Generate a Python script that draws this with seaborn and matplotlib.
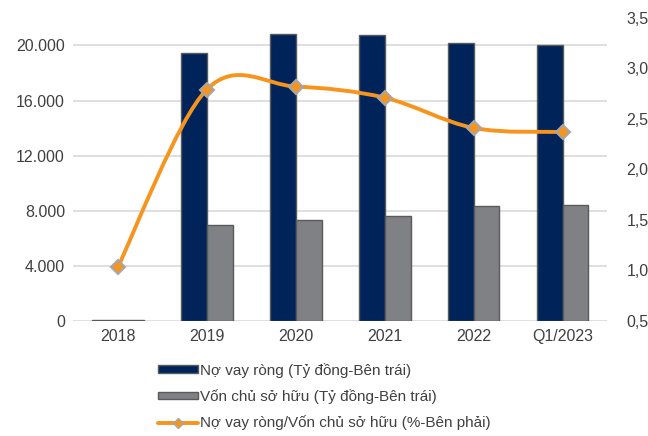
import pandas as pd
import numpy as np
import matplotlib
matplotlib.use("Agg")
import matplotlib.pyplot as plt
from matplotlib.path import Path
from matplotlib.patches import PathPatch, Patch
from matplotlib.lines import Line2D
import seaborn as sns

# data
periods = ["2018", "2019", "2020", "2021", "2022", "Q1/2023"]
net_debt = [60, 19480, 20830, 20760, 20200, 20000]
equity = [60, 6970, 7330, 7620, 8350, 8420]
ratio = [1.03, 2.79, 2.82, 2.71, 2.41, 2.37]

lbl_debt = "Nợ vay ròng (Tỷ đồng-Bên trái)"
lbl_eq = "Vốn chủ sở hữu (Tỷ đồng-Bên trái)"
lbl_ratio = "Nợ vay ròng/Vốn chủ sở hữu (%-Bên phải)"

navy = "#00245A"
grey = "#808184"
orange = "#F7941D"

sns.set_theme(style="white")
plt.rcParams["font.family"] = ["Liberation Sans", "DejaVu Sans"]

df = pd.DataFrame({
    "period": periods * 2,
    "value": net_debt + equity,
    "series": [lbl_debt] * len(periods) + [lbl_eq] * len(periods),
})

fig = plt.figure(figsize=(6.48, 4.36), dpi=100)
ax = fig.add_axes([0.113, 0.264, 0.824, 0.695])

sns.barplot(data=df, x="period", y="value", hue="series",
            palette={lbl_debt: navy, lbl_eq: grey}, saturation=1,
            width=0.58, gap=0, edgecolor="#5A5A5A", linewidth=1,
            legend=False, ax=ax, zorder=3)

ax.set_ylim(0, 22000)
ax.set_yticks(range(0, 20001, 4000))
ax.set_yticklabels([f"{v:,}".replace(",", ".") for v in range(0, 20001, 4000)])
ax.yaxis.grid(True, color="#D9D9D9", linewidth=1.2)
ax.set_axisbelow(True)
ax.set_xlabel("")
ax.set_ylabel("")
ax.set_xlim(-0.5, len(periods) - 0.5)
ax.tick_params(axis="both", length=0, labelsize=11.5, colors="#404040", pad=6)
for s in ax.spines.values():
    s.set_visible(False)

ax2 = ax.twinx()
ax2.set_ylim(0.5, 3.5)
ax2.set_yticks(np.arange(0.5, 3.51, 0.5))
ax2.set_yticklabels([f"{v:.1f}".replace(".", ",") for v in np.arange(0.5, 3.51, 0.5)])
ax2.tick_params(axis="y", length=0, labelsize=11.5, colors="#404040", pad=14)
for s in ax2.spines.values():
    s.set_visible(False)

# smoothed line like Excel's (Catmull-Rom as cubic Bezier)
xs = np.arange(len(ratio), dtype=float)
ys = np.array(ratio, dtype=float)
verts = [(xs[0], ys[0])]
codes = [Path.MOVETO]
n = len(xs)
for i in range(n - 1):
    p0 = np.array([xs[max(i - 1, 0)], ys[max(i - 1, 0)]])
    p1 = np.array([xs[i], ys[i]])
    p2 = np.array([xs[i + 1], ys[i + 1]])
    p3 = np.array([xs[min(i + 2, n - 1)], ys[min(i + 2, n - 1)]])
    c1 = p1 + (p2 - p0) / 6
    c2 = p2 - (p3 - p1) / 6
    verts += [tuple(c1), tuple(c2), tuple(p2)]
    codes += [Path.CURVE4] * 3
ax2.add_patch(PathPatch(Path(verts, codes), facecolor="none", edgecolor=orange,
                        linewidth=2.8, zorder=4))
ax2.plot(xs, ys, linestyle="none", marker="D", markersize=7.5,
         markerfacecolor=orange, markeredgecolor="#A6A6A6", markeredgewidth=1.5, zorder=5)

handles = [
    Patch(facecolor=navy, edgecolor="#5A5A5A", linewidth=1),
    Patch(facecolor=grey, edgecolor="#5A5A5A", linewidth=1),
    Line2D([0], [0], color=orange, linewidth=2.8, marker="D", markersize=5,
           markerfacecolor=orange, markeredgecolor="#A6A6A6"),
]
fig.legend(handles, [lbl_debt, lbl_eq, lbl_ratio], loc="upper left",
           bbox_to_anchor=(0.244, 0.168), frameon=False, fontsize=11,
           labelcolor="#404040", handlelength=2.6, handleheight=0.4,
           handletextpad=0.15, labelspacing=0.75, borderpad=0, borderaxespad=0)

fig.savefig("out.png", dpi=100)
